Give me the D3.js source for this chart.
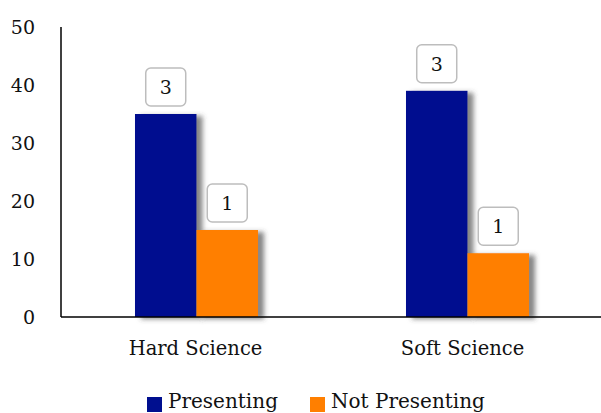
<!DOCTYPE html>
<html>
<head>
<meta charset="utf-8">
<script src="https://cdn.jsdelivr.net/npm/d3@7/dist/d3.min.js"></script>
<style>
  html, body { margin: 0; padding: 0; background: #fff; }
  svg { display: block; }
  svg text { font-family: "Palatino Linotype", "Book Antiqua", Palatino, "DejaVu Serif", serif; }
</style>
</head>
<body>
<svg id="chart" width="601" height="413"></svg>
<script>
// Groups, series and values
const categories = ["Hard Science", "Soft Science"];
const seriesNames = ["Presenting", "Not Presenting"];
const presenting = [35, 39];
const notPresenting = [15, 11];
const dataLabels = [["3", "1"], ["3", "1"]];
const yTicks = [0, 10, 20, 30, 40, 50];
const colors = ["#000f8f", "#ff7f00"];

const svg = d3.select("#chart");
const margin = { left: 61, right: -2, top: 27, bottom: 96 };
const W = 601, H = 413;

const x0 = d3.scaleBand()
  .domain(categories)
  .range([margin.left, W - margin.right])
  .paddingInner(0.546)
  .paddingOuter(0.273);
const x1 = d3.scaleBand().domain(seriesNames).range([0, x0.bandwidth()]);
const y = d3.scaleLinear().domain([0, 50]).range([H - margin.bottom, margin.top]);

// soft shadow to the right of each bar
const defs = svg.append("defs");
const f = defs.append("filter").attr("id", "shadow")
  .attr("x", "-20%").attr("y", "-20%").attr("width", "160%").attr("height", "140%");
f.append("feDropShadow").attr("dx", 6).attr("dy", 2).attr("stdDeviation", 2.5)
  .attr("flood-color", "#444").attr("flood-opacity", 0.65);

const rows = categories.map((c, i) => ({
  cat: c,
  vals: [presenting[i], notPresenting[i]],
  labels: dataLabels[i]
}));

// y-axis tick labels
const yAxis = d3.axisLeft(y).tickValues(yTicks).tickSize(0).tickPadding(26);
const gy = svg.append("g").attr("transform", `translate(${margin.left},0)`).call(yAxis)
  .attr("font-family", null).attr("font-size", null);
gy.select(".domain").remove();
gy.selectAll("text").attr("font-size", 19).attr("fill", "#111");

// bars
const groups = svg.append("g").selectAll("g").data(rows).join("g")
  .attr("transform", d => `translate(${x0(d.cat)},0)`);

groups.selectAll("rect").data(d => d.vals.map((v, j) => ({ v, j, s: seriesNames[j] })))
  .join("rect")
  .attr("x", d => x1(d.s))
  .attr("y", d => y(d.v))
  .attr("width", x1.bandwidth())
  .attr("height", d => y(0) - y(d.v))
  .attr("fill", d => colors[d.j])
  .attr("filter", "url(#shadow)");

// value labels in rounded boxes
const lab = groups.selectAll("g.lab").data(d => d.vals.map((v, j) => ({ v, j, s: seriesNames[j], t: d.labels[j] })))
  .join("g").attr("class", "lab")
  .attr("transform", d => `translate(${x1(d.s) + x1.bandwidth() / 2},${y(d.v) - 8})`);
lab.append("rect")
  .attr("x", -20).attr("y", -38).attr("width", 40).attr("height", 38)
  .attr("rx", 5).attr("fill", "#fff").attr("stroke", "#bdbdbd").attr("stroke-width", 1.5);
lab.append("text")
  .attr("text-anchor", "middle").attr("y", -12)
  .attr("font-size", 19).attr("fill", "#111")
  .text(d => d.t);

// axis lines
svg.append("line")
  .attr("x1", margin.left).attr("x2", margin.left)
  .attr("y1", y(50)).attr("y2", y(0))
  .attr("stroke", "#000").attr("stroke-width", 1.5);
svg.append("line")
  .attr("x1", margin.left).attr("x2", W)
  .attr("y1", y(0)).attr("y2", y(0))
  .attr("stroke", "#000").attr("stroke-width", 1.5);

// category labels
svg.append("g").selectAll("text").data(categories).join("text")
  .attr("x", (d, i) => x0(d) + x0.bandwidth() / 2 - (i === 0 ? 1 : 5))
  .attr("y", 355)
  .attr("text-anchor", "middle")
  .attr("font-size", 19.5).attr("fill", "#111")
  .text(d => d);

// legend
const legendX = [147, 310];
const leg = svg.append("g").selectAll("g").data(seriesNames).join("g")
  .attr("transform", (d, i) => `translate(${legendX[i]},0)`);
leg.append("rect").attr("x", 0).attr("y", 397).attr("width", 15).attr("height", 15)
  .attr("fill", (d, i) => colors[i]);
leg.append("text").attr("x", 21).attr("y", 408)
  .attr("font-size", 20).attr("fill", "#111")
  .text(d => d);
</script>
</body>
</html>
